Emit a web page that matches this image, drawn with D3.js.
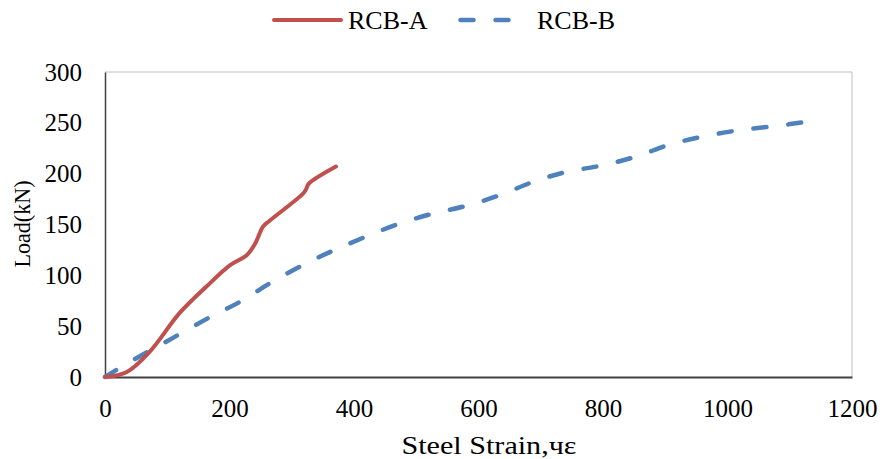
<!DOCTYPE html>
<html><head><meta charset="utf-8">
<script src="https://cdn.jsdelivr.net/npm/d3@7"></script>
<style>body{margin:0;background:#fff}svg{display:block}text{font-family:"Liberation Serif","Times New Roman",serif;fill:#000}</style>
</head><body><svg id="c" width="882" height="459"></svg>
<script>
const xTicks = [0, 200, 400, 600, 800, 1000, 1200];
const yTicks = [0, 50, 100, 150, 200, 250, 300];
const seriesNames = ["RCB-A", "RCB-B"];
const strainA = [0, 35, 72, 120, 163, 201, 228, 241, 254, 265, 319, 324, 327, 371];
const loadA   = [0, 5, 25, 63, 89, 110, 120, 131, 148, 154, 181, 186, 190, 207];
const strainB = [0, 21, 72, 99, 169, 217, 270, 324, 369, 415, 469, 522, 578, 635, 688, 743, 798, 854, 909, 965, 1022, 1079, 1127];
const loadB   = [0, 8, 26, 35, 59, 74, 94, 112, 125, 137, 150, 160, 168, 179, 192, 202, 208, 217, 229, 237, 243, 247, 251];

const svg = d3.select("#c");
const L = 105, R = 852, T = 72, B = 377;
const x = d3.scaleLinear().domain([0, 1200]).range([L, R]);
const y = d3.scaleLinear().domain([0, 300]).range([B, T]);

// frame
svg.append("line").attr("x1", L).attr("x2", R).attr("y1", T).attr("y2", T).attr("stroke", "#bfbfbf").attr("stroke-width", 1);
svg.append("line").attr("x1", R).attr("x2", R).attr("y1", T).attr("y2", B).attr("stroke", "#bfbfbf").attr("stroke-width", 1);

const fmt = d3.format("d");
const xAxis = svg.append("g").attr("transform", `translate(0,${B})`)
  .call(d3.axisBottom(x).tickValues(xTicks).tickFormat(fmt).tickSize(0).tickPadding(22));
const yAxis = svg.append("g").attr("transform", `translate(${L},0)`)
  .call(d3.axisLeft(y).tickValues(yTicks).tickFormat(fmt).tickSize(0).tickPadding(23));
[xAxis, yAxis].forEach(g => {
  g.selectAll("text").style("font-size", "25px").style("font-family", '"Liberation Serif",serif').attr("fill", "#000");
});
xAxis.select(".domain").attr("stroke", "#404040").attr("stroke-width", 2);
yAxis.select(".domain").attr("stroke", "#404040").attr("stroke-width", 1.5);

const line = d3.line().x(d => x(d[0])).y(d => y(d[1])).curve(d3.curveCatmullRom.alpha(0.5));
const dataA = strainA.map((s, i) => [s, loadA[i]]);
const dataB = strainB.map((s, i) => [s, loadB[i]]);

svg.append("path").datum(dataB).attr("d", line).attr("fill", "none")
  .attr("stroke", "#4F81BD").attr("stroke-width", 4.5).attr("stroke-linecap", "round")
  .attr("stroke-dasharray", "13,22");
svg.append("path").datum(dataA).attr("d", line).attr("fill", "none")
  .attr("stroke", "#C0504D").attr("stroke-width", 4).attr("stroke-linecap", "round").attr("stroke-linejoin", "round");

// axis titles
svg.append("text").attr("x", 489).attr("y", 454).attr("text-anchor", "middle")
  .attr("textLength", 175).attr("lengthAdjust", "spacingAndGlyphs")
  .style("font-size", "25px").text("Steel Strain,чε");
svg.append("text").attr("transform", "translate(30,224) rotate(-90)").attr("text-anchor", "middle")
  .attr("textLength", 87).attr("lengthAdjust", "spacingAndGlyphs")
  .style("font-size", "24px").text("Load(kN)");

// legend
const lg = svg.append("g");
lg.append("line").attr("x1", 274).attr("x2", 341).attr("y1", 20).attr("y2", 20)
  .attr("stroke", "#C0504D").attr("stroke-width", 4).attr("stroke-linecap", "round");
lg.append("text").attr("x", 348).attr("y", 29).style("font-size", "26px").text(seriesNames[0]);
lg.append("line").attr("x1", 460.5).attr("x2", 515).attr("y1", 20).attr("y2", 20)
  .attr("stroke", "#4F81BD").attr("stroke-width", 4.5).attr("stroke-linecap", "round").attr("stroke-dasharray", "13,22");
lg.append("text").attr("x", 537).attr("y", 29).style("font-size", "26px").text(seriesNames[1]);
</script></body></html>
